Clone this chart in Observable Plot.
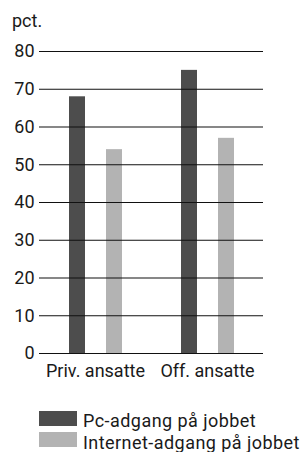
<!DOCTYPE html>
<html>
<head>
<meta charset="utf-8">
<script src="https://cdn.jsdelivr.net/npm/d3@7"></script>
<script src="https://cdn.jsdelivr.net/npm/@observablehq/plot@0.6"></script>
<style>
  html, body { margin: 0; padding: 0; background: #fff; }
  body { width: 302px; height: 452px; position: relative; overflow: hidden; font-family: Roboto, sans-serif; color: #1a1a1a; }
  #chart { position: absolute; left: 0; top: 0; }
  #unit { position: absolute; left: 12px; top: 12px; font-size: 18px; line-height: 18px; }
  .sw { position: absolute; left: 39px; width: 38px; height: 15px; }
  .lt { position: absolute; left: 83px; font-size: 18px; line-height: 18px; letter-spacing: 0.45px; white-space: nowrap; }
</style>
</head>
<body>
<div id="unit">pct.</div>
<div id="chart"></div>
<div id="legend"></div>
<script>
const groups = ["Priv. ansatte", "Off. ansatte"];
const series = ["Pc-adgang på jobbet", "Internet-adgang på jobbet"];
const pcValues = [68, 75];
const internetValues = [54, 57];
const yTicks = [0, 10, 20, 30, 40, 50, 60, 70, 80];
const colors = ["#4d4d4d", "#b3b3b3"];

const data = [];
groups.forEach((g, i) => {
  data.push({group: g, series: series[0], value: pcValues[i]});
  data.push({group: g, series: series[1], value: internetValues[i]});
});

const chart = Plot.plot({
  width: 302,
  height: 392,
  marginTop: 51,
  marginBottom: 39,
  marginLeft: 38,
  marginRight: 39,
  style: {fontFamily: "Roboto", fontSize: "18px", color: "#1a1a1a", background: "transparent"},
  fx: {domain: groups, paddingInner: 0, paddingOuter: 0, label: null},
  x: {domain: series, paddingInner: 0.58, paddingOuter: 0.77, axis: null},
  y: {domain: [0, 80], label: null},
  color: {domain: series, range: colors},
  marks: [
    Plot.barY(data, {fx: "group", x: "series", y: "value", fill: "series"}),
    Plot.ruleY(yTicks, {stroke: "#111", strokeWidth: 1.1}),
    Plot.axisY({ticks: yTicks, tickSize: 0, tickPadding: 5, label: null, fontSize: 18}),
    Plot.axisFx({anchor: "bottom", tickSize: 0, tickPadding: 11, label: null, fontSize: 18, style: {letterSpacing: "0.2px"}})
  ]
});
document.getElementById("chart").appendChild(chart);

const legend = document.getElementById("legend");
const swTops = [411, 432];
const textTops = [412, 434];
series.forEach((s, i) => {
  const sw = document.createElement("div");
  sw.className = "sw";
  sw.style.top = swTops[i] + "px";
  sw.style.background = colors[i];
  const t = document.createElement("div");
  t.className = "lt";
  t.style.top = textTops[i] + "px";
  t.textContent = s;
  legend.appendChild(sw);
  legend.appendChild(t);
});
</script>
</body>
</html>
